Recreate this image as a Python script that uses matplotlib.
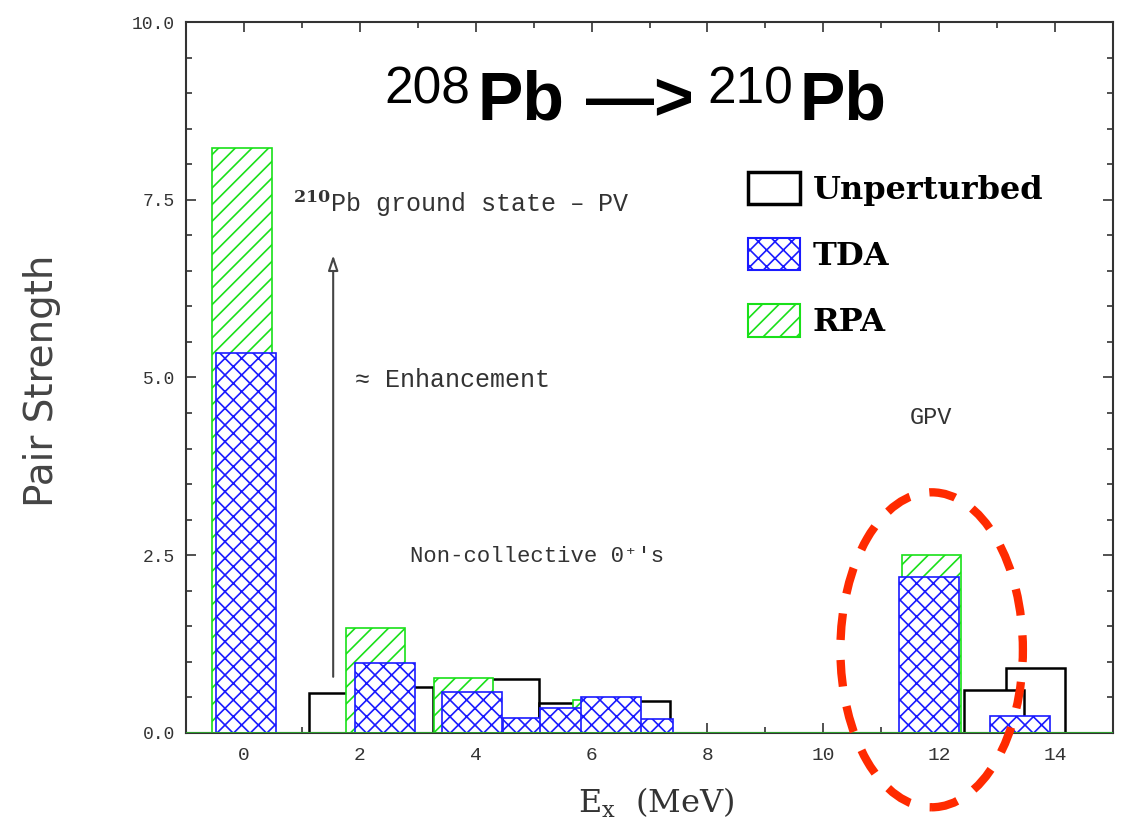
import matplotlib
matplotlib.use("Agg")
import matplotlib.pyplot as plt
from matplotlib.patches import Patch, Ellipse
from matplotlib.ticker import MultipleLocator

# ---------------------------------------------------------------------------
# Pair strength 208Pb -> 210Pb
# ---------------------------------------------------------------------------
unpert_ex = [1.64, 2.75, 4.58, 5.60, 6.84, 13.66, 12.95]
unpert_s  = [0.56, 0.65, 0.76, 0.42, 0.45, 0.91, 0.60]

rpa_ex = [-0.03, 2.27, 3.79, 6.20, 11.87]
rpa_s  = [8.23, 1.48, 0.77, 0.47, 2.50]

tda_ex = [0.03, 2.44, 3.94, 4.98, 5.63, 6.89, 6.33, 11.82, 13.39]
tda_s  = [5.34, 0.98, 0.58, 0.21, 0.35, 0.19, 0.50, 2.19, 0.24]

legend_labels = ["Unperturbed", "TDA", "RPA"]
xtick_vals = [0, 2, 4, 6, 8, 10, 12, 14]
ytick_vals = [0.0, 2.5, 5.0, 7.5, 10.0]

BAR_W = 1.03
BLUE  = "#1a1aff"
GREEN = "#19e019"
MONO  = ["Liberation Mono", "DejaVu Sans Mono"]

plt.rcParams["hatch.linewidth"] = 1.2
plt.rcParams["mathtext.fontset"] = "dejavuserif"

fig = plt.figure(figsize=(11.35, 8.21), dpi=100)
ax = fig.add_axes([0.1639, 0.1072, 0.8167, 0.866])

# bars: unperturbed underneath, RPA, then TDA on top
ax.bar(unpert_ex, unpert_s, width=BAR_W, facecolor="white",
       edgecolor="black", lw=1.8, zorder=2)
ax.bar(rpa_ex, rpa_s, width=BAR_W, facecolor="white",
       edgecolor=GREEN, hatch="//", lw=1.2, zorder=3)
ax.bar(tda_ex, tda_s, width=BAR_W, facecolor="white",
       edgecolor=BLUE, hatch="xx", lw=1.2, zorder=4)

ax.axhline(0, color="#2e9e2e", lw=2.2, zorder=5)

ax.set_xlim(-1, 15)
ax.set_ylim(0, 10)
ax.set_xticks(xtick_vals)
ax.set_xticklabels([str(v) for v in xtick_vals], family=MONO, fontsize=14,
                   color="#333333")
ax.set_yticks(ytick_vals)
ax.set_yticklabels([f"{v:.1f}" for v in ytick_vals], family=MONO,
                   fontsize=13, color="#333333")
ax.xaxis.set_minor_locator(MultipleLocator(1))
ax.yaxis.set_minor_locator(MultipleLocator(0.5))
ax.tick_params(which="both", direction="in", top=True, right=True,
               color="#333333", width=1.2)
ax.tick_params(which="major", length=7)
ax.tick_params(which="minor", length=4)
ax.tick_params(axis="y", pad=8)
ax.tick_params(axis="x", pad=10)
for sp in ax.spines.values():
    sp.set_color("#333333")
    sp.set_linewidth(1.5)

ax.set_ylabel("Pair Strength", family="DejaVu Sans", fontsize=28,
              color="#444444")
ax.yaxis.set_label_coords(-0.135, 0.496)
ax.set_xlabel(r"E$_\mathregular{x}$  (MeV)", family="DejaVu Serif",
              fontsize=23, color="#333333")
ax.xaxis.set_label_coords(0.507, -0.075)

# annotations
ax.text(0.85, 7.45, r"$^{\mathbf{210}}$Pb ground state – PV", family=MONO,
        fontsize=18, color="#333333", va="center")
ax.text(1.92, 4.96, "≈ Enhancement", family=MONO, fontsize=18,
        color="#333333", va="center")
ax.text(2.87, 2.48, "Non-collective 0⁺'s", family=MONO, fontsize=16,
        color="#333333", va="center")
ax.text(11.49, 4.44, "GPV", family=MONO, fontsize=17, color="#333333",
        va="center")
ax.annotate("", xy=(1.54, 6.72), xytext=(1.54, 0.79),
            arrowprops=dict(arrowstyle="-|>,head_length=0.9,head_width=0.3",
                            fc="white", ec="#444444", lw=1.5,
                            shrinkA=0, shrinkB=0), zorder=6)

# red dashed ring around the giant pairing vibration
ax.add_patch(Ellipse((11.87, 1.17), 3.15, 4.43, fill=False,
                     edgecolor="#ff2a00", lw=6, linestyle=(0, (3.2, 2.4)),
                     clip_on=False, zorder=7))

# legend
handles = [Patch(facecolor="white", edgecolor="black", lw=2.5),
           Patch(facecolor="white", edgecolor=BLUE, hatch="xx", lw=1.5),
           Patch(facecolor="white", edgecolor=GREEN, hatch="//", lw=1.5)]
ax.legend(handles, legend_labels, loc="upper left",
          bbox_to_anchor=(0.589, 0.812), frameon=False, borderpad=0,
          handlelength=1.63, handleheight=1.2, handletextpad=0.4,
          labelspacing=1.0,
          prop={"family": "DejaVu Serif", "weight": "bold", "size": 23})

# big title inside the frame
title_kw = dict(family="Liberation Sans", va="baseline", color="black")
fig.text(384 / 1135, 1 - 104 / 821, "208", fontsize=37, **title_kw)
fig.text(477 / 1135, 1 - 120 / 821, "Pb", fontsize=49, weight="bold",
         **title_kw)
fig.text(586 / 1135, 1 - 120 / 821, "—>", fontsize=49, weight="bold",
         **title_kw)
fig.text(707 / 1135, 1 - 104 / 821, "210", fontsize=37, **title_kw)
fig.text(799 / 1135, 1 - 120 / 821, "Pb", fontsize=49, weight="bold",
         **title_kw)

fig.savefig("out.png", dpi=100, facecolor="white")
